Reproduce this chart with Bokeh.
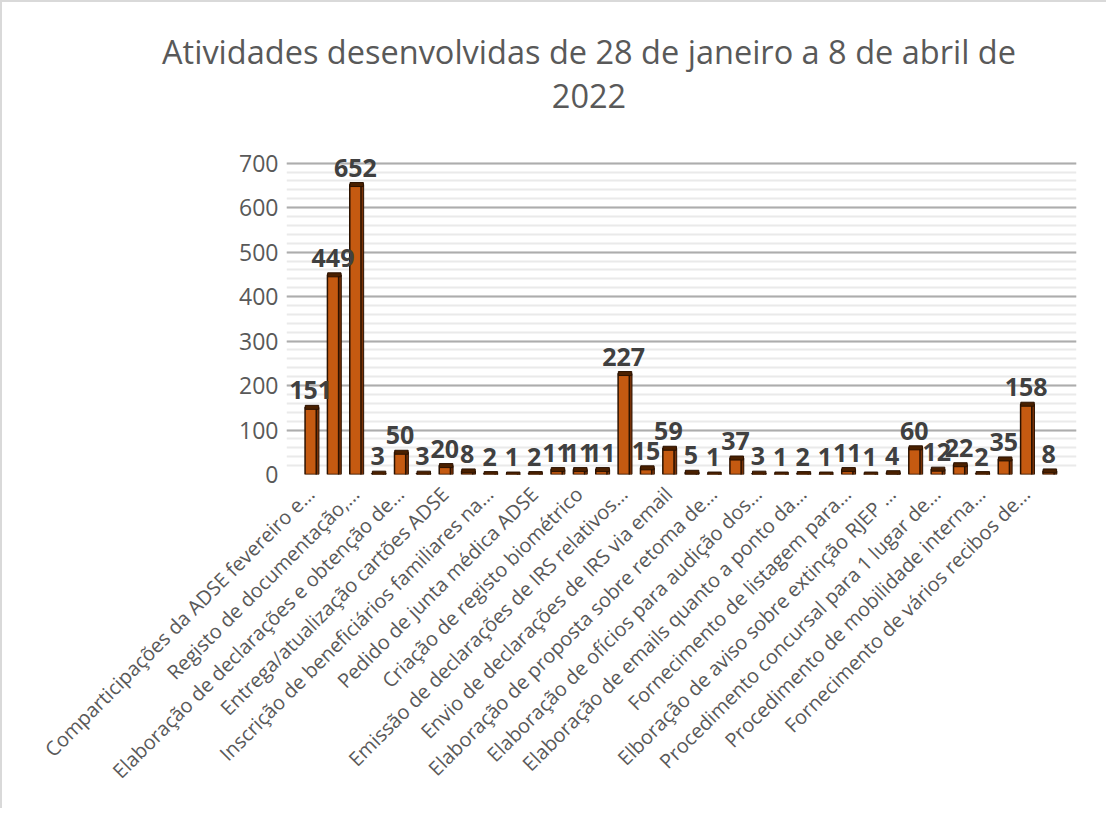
import math
from bokeh.plotting import figure
from bokeh.layouts import column
from bokeh.models import ColumnDataSource, FixedTicker, LabelSet, Div
from bokeh.transform import dodge
from bokeh.core.properties import value
from bokeh.embed import file_html
from bokeh.resources import INLINE

title_lines = ["Atividades desenvolvidas de 28 de janeiro a 8 de abril de", "2022"]

values = [151, 449, 652, 3, 50, 3, 20, 8, 2, 1, 2, 11, 11, 11, 227, 15, 59,
          5, 1, 37, 3, 1, 2, 1, 11, 1, 4, 60, 12, 22, 2, 35, 158, 8]

shown_labels = [
    "Comparticipações da ADSE fevereiro e…",
    "Registo de documentação,…",
    "Elaboração de declarações e obtenção de…",
    "Entrega/atualização cartões ADSE",
    "Inscrição de beneficiários familiares na…",
    "Pedido de junta médica ADSE",
    "Criação de registo biométrico",
    "Emissão de declarações de IRS relativos…",
    "Envio de declarações de IRS via email",
    "Elaboração de proposta sobre retoma de…",
    "Elaboração de ofícios para audição dos…",
    "Elaboração de emails quanto a ponto da…",
    "Fornecimento de listagem para…",
    "Elboração de aviso sobre extinção RJEP …",
    "Procedimento concursal para 1 lugar de…",
    "Procedimento de mobilidade interna…",
    "Fornecimento de vários recibos de…",
]

y_ticks = [0, 100, 200, 300, 400, 500, 600, 700]
y_minor = list(range(0, 701, 20))

xs = list(range(1, len(values) + 1))
src = ColumnDataSource(dict(x=xs, v=values, t=[str(v) for v in values]))

W = 1094
DIV_H = 110
H = 686

title = Div(
    text=('<div style="box-sizing:border-box;width:1094px;padding-top:23px;padding-left:70px;text-align:center;'
          'font-family:\'Open Sans\';font-size:32.5px;line-height:44px;color:#595959;white-space:nowrap;">'
          + title_lines[0] + "<br>" + title_lines[1] + "</div>"),
    width=W, height=DIV_H)

p = figure(width=W, height=H, output_backend="svg", toolbar_location=None,
           x_range=(-0.08, 35.25), y_range=(0, 760),
           min_border_left=284, min_border_right=20,
           min_border_top=14, min_border_bottom=334)
p.outline_line_color = None
p.background_fill_color = "white"
p.border_fill_color = "white"

# grid
p.xgrid.grid_line_color = None
p.yaxis.ticker = FixedTicker(ticks=y_ticks, minor_ticks=y_minor)
p.ygrid.grid_line_color = "#adadad"
p.ygrid.grid_line_width = 2
p.ygrid.minor_grid_line_color = "#eaeaea"
p.ygrid.minor_grid_line_width = 2

# y axis
p.yaxis.axis_line_color = None
p.yaxis.major_tick_line_color = None
p.yaxis.minor_tick_line_color = None
p.yaxis.major_label_text_font = "Open Sans"
p.yaxis.major_label_text_font_size = "23px"
p.yaxis.major_label_text_color = "#595959"
p.yaxis.major_label_standoff = 2

# x axis
p.xaxis.ticker = FixedTicker(ticks=xs[::2])
p.xaxis.major_label_overrides = {x: lab for x, lab in zip(xs[::2], shown_labels)}
p.xaxis.axis_line_color = None
p.xaxis.major_tick_line_color = None
p.xaxis.minor_tick_line_color = None
p.xaxis.major_label_orientation = math.pi / 4
p.xaxis.major_label_text_font = "Open Sans"
p.xaxis.major_label_text_font_size = "20px"
p.xaxis.major_label_text_color = "#595959"
p.xaxis.major_label_standoff = 10

# bars: side face, front face, top cap
p.vbar(x=dodge("x", 0.3, range=p.x_range), top="v", width=0.14, source=src,
       fill_color="#7a3308", line_color="#2b1200", line_width=1)
p.vbar(x="x", top="v", width=0.5, source=src,
       fill_color="#C55A11", line_color="#2b1200", line_width=1.5)
p.rect(x=dodge("x", 0.06, range=p.x_range), y="v", width=0.6, height=4, height_units="screen",
       source=src, fill_color="#4a2000", line_color="#2b1200", line_width=1)

labels = LabelSet(x="x", y="v", text="t", source=src, text_align="center",
                  text_baseline="bottom", y_offset=8,
                  text_font=value("Open Sans"), text_font_style="bold",
                  text_font_size="25px", text_color="#404040")
p.add_layout(labels)

layout = column(title, p, spacing=0,
                styles={"border-left": "2px solid #d9d9d9", "border-top": "2px solid #d9d9d9",
                        "border-right": "none", "border-bottom": "none"})

open("out.html", "w").write(file_html(layout, INLINE))
